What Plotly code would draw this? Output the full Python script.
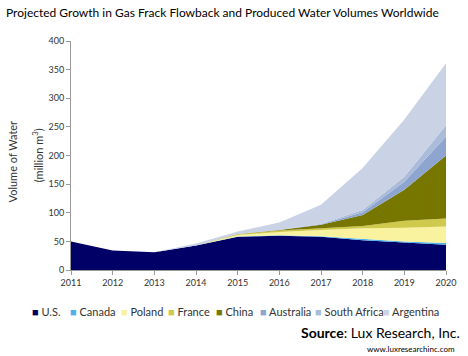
import plotly.graph_objects as go

years = [2011, 2012, 2013, 2014, 2015, 2016, 2017, 2018, 2019, 2020]
series_names = ["U.S.", "Canada", "Poland", "France", "China", "Australia", "South Africa", "Argentina"]
us = [50, 34, 31, 43, 58, 60, 58, 52, 48, 44]
canada = [0, 0, 0, 0, 0.3, 0.5, 1, 2, 2, 3]
poland = [0, 0, 0, 0, 3, 6, 11, 19, 24, 29]
france = [0, 0, 0, 0, 1, 2.5, 3, 4, 12, 14]
china = [0, 0, 0, 0, 0.5, 1, 6, 19, 54, 110]
australia = [0, 0, 0, 0, 0, 0, 1, 5, 14, 33]
south_africa = [0, 0, 0, 0, 0, 0, 1, 4, 9, 20]
argentina = [0, 0, 0, 3.5, 4.5, 13, 33, 73, 100, 108]
y_ticks = [0, 50, 100, 150, 200, 250, 300, 350, 400]

colors = ["#000066", "#4FB0EE", "#F9F29E", "#CFC94C", "#777700", "#8EA5CF", "#ABBCDA", "#C9D3E5"]
values = [us, canada, poland, france, china, australia, south_africa, argentina]

FONT = "Lato"
fig = go.Figure()
for name, vals, col in zip(series_names, values, colors):
    fig.add_trace(go.Scatter(
        x=years, y=vals, name=name, mode="lines", stackgroup="one",
        line=dict(width=0, color=col), fillcolor=col, showlegend=False))

# legend built from annotations (one row, like the reference)
legend_x = [30, 68, 119, 167, 215, 259, 315, 383]
for name, col, lx in zip(series_names, colors, legend_x):
    fig.add_annotation(
        xref="paper", yref="paper",
        x=(lx - 71) / 378, y=-(311 - 270) / 229,
        xanchor="left", yanchor="middle", showarrow=False,
        text=f'<span style="color:{col}">■</span> {name}',
        font=dict(family=FONT, size=11, color="#333333"))

fig.add_annotation(
    xref="paper", yref="paper", x=(465 - 71) / 378, y=-(332 - 270) / 229,
    xanchor="right", yanchor="middle", showarrow=False,
    text="<b>Source</b>: Lux Research, Inc.",
    font=dict(family=FONT, size=14, color="#000000"))
fig.add_annotation(
    xref="paper", yref="paper", x=(460 - 71) / 378, y=-(349 - 270) / 229,
    xanchor="right", yanchor="middle", showarrow=False,
    text="www.luxresearchinc.com",
    font=dict(family=FONT, size=8, color="#000000"))

# y axis titles
fig.add_annotation(
    xref="paper", yref="paper", x=(12 - 71) / 378, y=(270 - 161) / 229,
    xanchor="center", yanchor="middle", showarrow=False, textangle=-90,
    text="Volume of Water", font=dict(family=FONT, size=11, color="#333333"))
fig.add_annotation(
    xref="paper", yref="paper", x=(37 - 71) / 378, y=(270 - 155) / 229,
    xanchor="center", yanchor="middle", showarrow=False, textangle=-90,
    text="(million m<sup>3</sup>)", font=dict(family=FONT, size=11, color="#333333"))

fig.update_layout(
    width=468, height=356,
    margin=dict(l=71, r=19, t=41, b=86),
    paper_bgcolor="white", plot_bgcolor="white",
    title=dict(text="Projected Growth in Gas Frack Flowback and Produced Water Volumes Worldwide",
               x=6 / 468, y=1 - 13 / 356, xanchor="left", yanchor="middle",
               font=dict(family=FONT, size=12, color="#000000")),
    xaxis=dict(range=[2011, 2020], tickvals=years, ticktext=[str(y) for y in years],
               showgrid=False, zeroline=False, showline=True, linecolor="#999999",
               ticks="outside", ticklen=4, tickcolor="#999999",
               tickfont=dict(family=FONT, size=9, color="#333333"), tickangle=0),
    yaxis=dict(range=[0, 400], tickvals=y_ticks,
               showgrid=False, zeroline=False, showline=True, linecolor="#999999",
               ticks="outside", ticklen=4, tickcolor="#999999",
               tickfont=dict(family=FONT, size=9, color="#333333")),
)

fig.write_html("out.html", config={"displayModeBar": False},
               post_script="document.body.style.margin='0';")
